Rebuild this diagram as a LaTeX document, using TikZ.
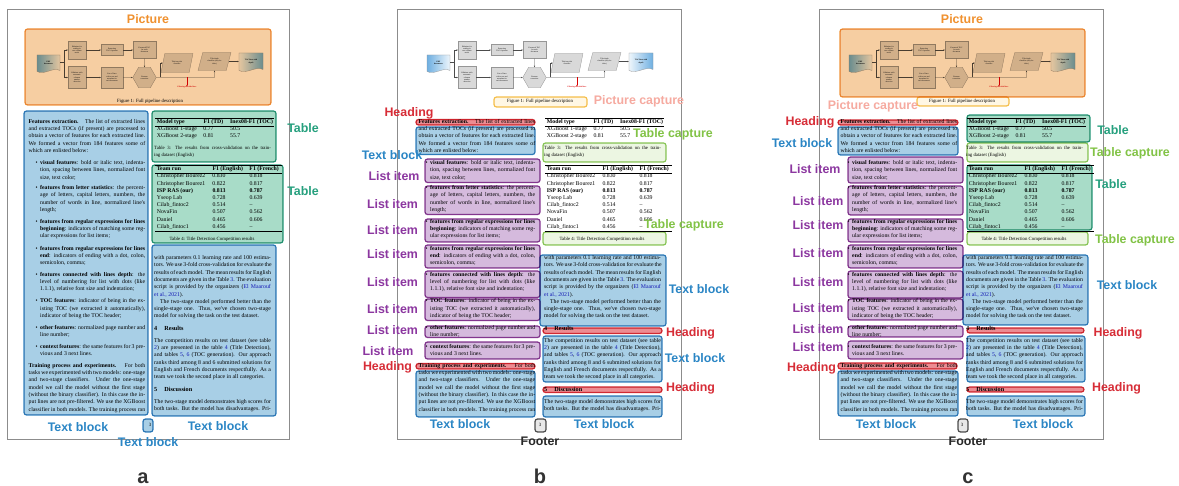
\documentclass[tikz,border=0pt]{standalone}
\usepackage{fontspec}
\setmainfont{Liberation Sans}
\newfontfamily\docfont{Liberation Serif}
\usetikzlibrary{arrows.meta,shapes.geometric}

% region colours
\definecolor{tbFill}{RGB}{168,207,230}
\definecolor{tbLine}{RGB}{52,132,192}
\definecolor{tbText}{RGB}{43,134,197}
\definecolor{tabFill}{RGB}{168,220,200}
\definecolor{tabLine}{RGB}{40,155,125}
\definecolor{tabText}{RGB}{38,160,126}
\definecolor{picFill}{RGB}{246,206,162}
\definecolor{picLine}{RGB}{240,150,60}
\definecolor{picText}{RGB}{240,145,47}
\definecolor{hdFill}{RGB}{236,140,146}
\definecolor{hdLine}{RGB}{215,50,60}
\definecolor{hdText}{RGB}{215,45,55}
\definecolor{liFill}{RGB}{213,186,221}
\definecolor{liLine}{RGB}{140,60,150}
\definecolor{liText}{RGB}{140,55,160}
\definecolor{pcFill}{RGB}{255,247,228}
\definecolor{pcLine}{RGB}{245,195,80}
\definecolor{pcText}{RGB}{246,170,160}
\definecolor{tcFill}{RGB}{236,246,226}
\definecolor{tcLine}{RGB}{140,200,90}
\definecolor{tcText}{RGB}{130,195,70}
\definecolor{ftFill}{RGB}{232,232,232}
\definecolor{ftLine}{RGB}{80,80,80}
\definecolor{ftText}{RGB}{40,40,40}
% page colours
\definecolor{linkBlue}{RGB}{30,30,200}
\definecolor{fcFill}{RGB}{217,217,217}
\definecolor{fcLine}{RGB}{150,150,150}
\definecolor{docBlue}{RGB}{110,175,225}

% one justified line, a last line, an indented line, a bullet
\newcommand{\lk}[1]{\textcolor{linkBlue}{#1}}
\newcommand{\docJ}[1]{\hbox to\hsize{#1}}
\newcommand{\docL}[1]{\hbox to\hsize{#1\hfil}}
\newcommand{\docI}[1]{\hbox to\hsize{\hskip6pt #1}}
\newcommand{\bul}{\llap{\textbullet\hskip2.6pt}}
\newcommand{\doclines}[2]{\vtop{\hsize=#1\relax #2}}

\tikzset{
  region/.style={rounded corners=2.5pt, line width=1.2pt},
  textblk/.style={region, fill=tbFill, draw=tbLine},
  tablebox/.style={region, fill=tabFill, draw=tabLine},
  picbox/.style={region, fill=picFill, draw=picLine},
  headbox/.style={region, fill=hdFill, draw=hdLine},
  listbox/.style={region, fill=liFill, draw=liLine},
  capbox/.style={region, fill=pcFill, draw=pcLine},
  tcapbox/.style={region, fill=tcFill, draw=tcLine},
  footbox/.style={region, fill=ftFill, draw=ftLine},
  lbl/.style={font=\bfseries\fontsize{12.4}{14}\selectfont, inner sep=0pt, text height=8.9pt, text depth=0pt},
  panelmark/.style={font=\bfseries\fontsize{20}{22}\selectfont, text=black!80, inner sep=0pt, anchor=base},
  pagefr/.style={draw=black!45, line width=1pt, fill=white},
  docpara/.style={anchor=base west, inner sep=0pt, font=\docfont\fontsize{5.8}{7.3}\selectfont},
  doccap/.style={anchor=base west, inner sep=0pt, font=\docfont\fontsize{4.8}{6.3}\selectfont},
  dochead/.style={anchor=base west, inner sep=0pt, font=\docfont\bfseries\fontsize{6.2}{7.3}\selectfont},
  doctab/.style={anchor=base west, inner sep=0pt, font=\docfont\fontsize{5.8}{7.2}\selectfont},
  docrule/.style={line width=0.4pt, draw=black},
  fcbox/.style={draw=fcLine, fill=fcFill, line width=0.3pt, inner sep=0pt, align=center, font=\docfont\fontsize{1.9}{2.2}\selectfont},
  fctext/.style={inner sep=0pt, align=center, font=\docfont\bfseries\fontsize{1.9}{2.2}\selectfont},
  fcline/.style={line width=0.35pt, draw=black!70},
  fcarrow/.style={fcline, -{Stealth[length=1.6pt,width=1.4pt]}},
  redarrow/.style={line width=0.4pt, draw=red!85!black, -{Stealth[length=1.6pt,width=1.4pt]}},
}

% the printed page; #1 prefixes the node names
\newcommand{\docpage}[1]{%
  % pipeline figure
  \path[draw=fcLine, line width=0.3pt, left color=docBlue, right color=docBlue!12]
    (30,55) -- (53,55) -- (53,70.5) .. controls (46,66.5) and (38,75.5) .. (30,71.5) -- cycle;
  \node[fctext, minimum width=23pt, minimum height=14pt] (#1-pdf) at (41.5,62.5) {PDF\\documents};
  \node[fcbox, minimum width=18pt, minimum height=18pt] (#1-f1) at (70,50) {Pdfminer for\\reading in\\one-column\\mode};
  \node[fcbox, minimum width=22pt, minimum height=11pt] (#1-f2) at (105,50) {Extracting\\TOC if present};
  \node[fcbox, minimum width=23pt, minimum height=17pt] (#1-f3) at (137.5,50) {Extracted TOC\\for each\\document};
  \node[fcbox, minimum width=18pt, minimum height=22pt] (#1-f4) at (70,77.5) {Pdfminer with\\automatic\\columns\\number\\detection};
  \node[fcbox, minimum width=22pt, minimum height=21pt] (#1-f5) at (105,77.5) {List of lines\\with a text and\\metadata for\\each document};
  \node[fcbox, regular polygon, regular polygon sides=6, minimum size=23.5pt] (#1-hex) at (137.5,77.5) {Features\\extraction};
  \node[fcbox, trapezium, trapezium left angle=65, trapezium right angle=115, trapezium stretches=true,
        minimum width=32pt, minimum height=19pt] (#1-p1) at (170,63) {Title/non-title\\classifier};
  \node[fcbox, trapezium, trapezium left angle=65, trapezium right angle=115, trapezium stretches=true,
        minimum width=33pt, minimum height=18pt] (#1-p2) at (207.5,61.5) {Title depth\\classifier (only for\\titles)};
  \path[draw=fcLine, line width=0.3pt, left color=docBlue!12, right color=docBlue]
    (232,53) -- (256,53) -- (256,69.5) .. controls (249,65.5) and (240,74.5) .. (232,70.5) -- cycle;
  \node[fctext, minimum width=24pt, minimum height=14pt] (#1-out) at (244,61.5) {TOC lines with\\depth};
  \node[fctext, text=red!85!black] (#1-filt) at (180,87.5) {Filtering non-title lines};
  \coordinate (#1-br) at (57,62.5);
  \coordinate (#1-j1) at (153,77.5);
  \coordinate (#1-j3) at (180,77.5);
  \coordinate (#1-j2) at (207.5,77.5);
  \draw[fcline] (#1-pdf.east) -- (#1-br);
  \draw[fcarrow] (#1-br) |- (#1-f1.west);
  \draw[fcarrow] (#1-br) |- (#1-f4.west);
  \draw[fcarrow] (#1-f1) -- (#1-f2);
  \draw[fcarrow] (#1-f2) -- (#1-f3);
  \draw[fcarrow] (#1-f3) -- (#1-hex);
  \draw[fcarrow] (#1-f4) -- (#1-f5);
  \draw[fcarrow] (#1-f5) -- (#1-hex);
  \draw[fcline] (#1-hex.east) -- (#1-j2);
  \draw[fcarrow] (#1-j1) |- (#1-p1.west);
  \draw[fcarrow] (#1-j2) -- (#1-p2.south);
  \draw[fcarrow] (#1-p2) -- (#1-out);
  \draw[redarrow] (#1-j3) -- (#1-filt.north);
  \node[anchor=base, inner sep=0pt, font=\docfont\fontsize{4.8}{6}\selectfont] (#1-fig) at (143,103) {Figure 1: Full pipeline description};
  % left column
  \node[docpara] (#1-intro) at (21.5,123.3) {\doclines{116.5pt}{%
    \docJ{\textbf{Features extraction.}\hskip 6pt plus 2pt The list of extracted lines}%
    \docJ{and extracted TOCs (if present) are processed to}%
    \docJ{obtain a vector of features for each extracted line.}%
    \docJ{We formed a vector from 184 features some of}%
    \docL{which are enlisted below:}}};
  \node[docpara] (#1-it1) at (33,164.6) {\doclines{105pt}{%
    \docJ{\bul\textbf{visual features}: bold or italic text, indenta-}%
    \docJ{tion, spacing between lines, normalized font}%
    \docL{size, text color;}}};
  \node[docpara] (#1-it2) at (33,189.6) {\doclines{105pt}{%
    \docJ{\bul\textbf{features from letter statistics}: the percent-}%
    \docJ{age of letters, capital letters, numbers, the}%
    \docJ{number of words in line, normalized line's}%
    \docL{length;}}};
  \node[docpara] (#1-it3) at (33,223.3) {\doclines{105pt}{%
    \docJ{\bul\textbf{features from regular expressions for lines}}%
    \docJ{\textbf{beginning}: indicators of matching some reg-}%
    \docL{ular expressions for list items;}}};
  \node[docpara] (#1-it4) at (33,250.3) {\doclines{105pt}{%
    \docJ{\bul\textbf{features from regular expressions for lines}}%
    \docJ{\textbf{end}: indicators of ending with a dot, colon,}%
    \docL{semicolon, comma;}}};
  \node[docpara] (#1-it5) at (33,276.3) {\doclines{105pt}{%
    \docJ{\bul\textbf{features connected with lines depth}: the}%
    \docJ{level of numbering for list with dots (like}%
    \docL{1.1.1), relative font size and indentation;}}};
  \node[docpara] (#1-it6) at (33,302.8) {\doclines{105pt}{%
    \docJ{\bul\textbf{TOC features}: indicator of being in the ex-}%
    \docJ{isting TOC (we extracted it automatically),}%
    \docL{indicator of being the TOC header;}}};
  \node[docpara] (#1-it7) at (33,329.6) {\doclines{105pt}{%
    \docJ{\bul\textbf{other features}: normalized page number and}%
    \docL{line number;}}};
  \node[docpara] (#1-it8) at (33,348.6) {\doclines{105pt}{%
    \docJ{\bul\textbf{context features}: the same features for 3 pre-}%
    \docL{vious and 3 next lines.}}};
  \node[docpara] (#1-train) at (21.5,367.3) {\doclines{116.5pt}{%
    \docJ{\textbf{Training process and experiments.}\hskip 6pt plus 2pt For both}%
    \docJ{tasks we experimented with two models: one-stage}%
    \docJ{and two-stage classifiers. Under the one-stage}%
    \docJ{model we call the model without the first stage}%
    \docJ{(without the binary classifier). In this case the in-}%
    \docJ{put lines are not pre-filtered. We use the XGBoost}%
    \docJ{classifier in both models. The training process ran}}};
  % right column
  \node[doctab] (#1-tab3) at (149.7,123.3) {\begin{tabular}[t]{@{}p{46.6pt}@{}p{26.7pt}@{}l@{}}
    \textbf{Model type} & \textbf{F1 (TD)} & \textbf{Inex08-F1 (TOC)}\\
    XGBoost 1-stage & 0.77 & 50.5\\
    XGBoost 2-stage & 0.81 & 55.7
  \end{tabular}};
  \draw[docrule] (148,118.3) -- (267,118.3);
  \draw[docrule] (148,125.8) -- (267,125.8);
  \node[doccap] (#1-cap3) at (147,150) {\doclines{116.7pt}{%
    \docJ{Table 3: The results from cross-validation on the train-}%
    \docL{ing dataset (English)}}};
  \node[doctab] (#1-tab4) at (149.7,170.8) {\begin{tabular}[t]{@{}p{55.6pt}@{}p{37pt}@{}l@{}}
    \textbf{Team run} & \textbf{F1 (English)} & \textbf{F1 (French)}\\
    Christopher Bourez2 & 0.830 & 0.818\\
    Christopher Bourez1 & 0.822 & 0.817\\
    \textbf{ISP RAS (our)} & \textbf{0.813} & \textbf{0.787}\\
    Yseop Lab & 0.728 & 0.639\\
    Cilab\_fintoc2 & 0.514 & \textendash\\
    NovaFin & 0.507 & 0.562\\
    Daniel & 0.465 & 0.606\\
    Cilab\_fintoc1 & 0.456 & \textendash
  \end{tabular}};
  \draw[docrule] (148,165.7) -- (274.7,165.7);
  \draw[docrule] (148,173.2) -- (274.7,173.2);
  \draw[docrule] (148,231.4) -- (274.7,231.4);
  \node[anchor=base, inner sep=0pt, font=\docfont\fontsize{4.8}{6.3}\selectfont] (#1-cap4) at (205,240.6) {Table 4: Title Detection Competition results};
  \node[docpara] (#1-r1) at (147,259.6) {\doclines{116.7pt}{%
    \docJ{with parameters 0.1 learning rate and 100 estima-}%
    \docJ{tors. We use 3-fold cross-validation for evaluate the}%
    \docJ{results of each model. The mean results for English}%
    \docJ{documents are given in the Table \lk{3}. The evaluation}%
    \docJ{script is provided by the organizers (\lk{El Maarouf}}%
    \docL{\lk{et al., 2021}).}%
    \docI{The two-stage model performed better than the}%
    \docJ{single-stage one. Thus, we've chosen two-stage}%
    \docL{model for solving the task on the test dataset.}}};
  \node[dochead] (#1-h4) at (147,330.6) {4\hskip7pt Results};
  \node[docpara] (#1-r3) at (147,342.3) {\doclines{116.7pt}{%
    \docJ{The competition results on test dataset (see table}%
    \docJ{\lk{2}) are presented in the table \lk{4} (Title Detection),}%
    \docJ{and tables \lk{5}, \lk{6} (TOC generation). Our approach}%
    \docJ{ranks third among 8 and 6 submitted solutions for}%
    \docJ{English and French documents respectfully. As a}%
    \docL{team we took the second place in all categories.}}};
  \node[dochead] (#1-h5) at (147,392) {5\hskip7pt Discussion};
  \node[docpara] (#1-r4) at (147,403.6) {\doclines{116.7pt}{%
    \docJ{The two-stage model demonstrates high scores for}%
    \docJ{both tasks. But the model has disadvantages. Pri-}}};
  \node[anchor=base, inner sep=0pt, font=\docfont\fontsize{4.8}{6}\selectfont] (#1-pg) at (143,427) {3};
}

\begin{document}
\begin{tikzpicture}[x=1pt, y=-1pt]
  \useasboundingbox (0,0) rectangle (1179,486);
  \fill[white] (0,0) rectangle (1179,486);

  % the three pages
  \draw[pagefr] (7,10) rectangle (289,440);
  \draw[pagefr] (397,10) rectangle (681,440);
  \draw[pagefr] (819,10) rectangle (1103,440);
  \begin{scope}[shift={(7,0)}]\docpage{a}\end{scope}
  \begin{scope}[shift={(397,0)}]\docpage{b}\end{scope}
  \begin{scope}[shift={(819,0)}]\docpage{c}\end{scope}

  % layout regions
  \begin{scope}[blend mode=multiply]
    % panel a
    \draw[picbox] (25,29) rectangle (271,105);
    \draw[textblk] (24,111) rectangle (148,415);
    \draw[tablebox] (152,111) rectangle (276,162);
    \draw[tablebox] (152,165) rectangle (283,243);
    \draw[textblk] (152,245) rectangle (276,416);
    \draw[textblk] (143,419) rectangle (153,432);
    % panel b
    \draw[capbox] (494,97) rectangle (587,107);
    \draw[headbox] (416,119.5) rectangle (535,125);
    \draw[textblk] (416,127) rectangle (535,154.5);
    \draw[listbox] (425,159) rectangle (540,182.5);
    \draw[listbox] (425,186) rectangle (540,214.5);
    \draw[listbox] (425,219) rectangle (540,242);
    \draw[listbox] (425,245) rectangle (540,268);
    \draw[listbox] (425,271) rectangle (540,297.5);
    \draw[listbox] (425,299) rectangle (540,320.5);
    \draw[listbox] (425,326) rectangle (540,337.5);
    \draw[listbox] (425,342) rectangle (540,359);
    \draw[headbox] (416,363.5) rectangle (535,369);
    \draw[textblk] (416,371) rectangle (535,417);
    \draw[tcapbox] (543,143) rectangle (666,162);
    \draw[tcapbox] (543,232) rectangle (666,245);
    \draw[textblk] (540,255) rectangle (666,326);
    \draw[headbox] (543,328) rectangle (662,333.5);
    \draw[textblk] (543,336) rectangle (662,382);
    \draw[headbox] (543,387) rectangle (662,392.5);
    \draw[textblk] (543,396) rectangle (662,417);
    \draw[footbox] (535,419) rectangle (546,432);
    % panel c
    \draw[picbox] (840,29) rectangle (1085,97);
    \draw[capbox] (917,97) rectangle (1009,106);
    \draw[headbox] (838,120) rectangle (958,125);
    \draw[textblk] (838,127) rectangle (958,155);
    \draw[listbox] (848,157) rectangle (963,183);
    \draw[listbox] (848,186) rectangle (963,215);
    \draw[listbox] (848,219) rectangle (963,242);
    \draw[listbox] (848,245) rectangle (963,268);
    \draw[listbox] (848,271) rectangle (963,298);
    \draw[listbox] (848,299) rectangle (963,320);
    \draw[listbox] (848,326) rectangle (963,337);
    \draw[listbox] (848,341) rectangle (963,359);
    \draw[headbox] (838,363) rectangle (957,369);
    \draw[textblk] (838,371) rectangle (958,416);
    \draw[tablebox] (967,115) rectangle (1090,142);
    \draw[tcapbox] (967,143) rectangle (1088,162);
    \draw[tablebox] (967,165) rectangle (1092,230);
    \draw[tcapbox] (967,232) rectangle (1088,245);
    \draw[textblk] (963,255) rectangle (1088,325);
    \draw[headbox] (967,328) rectangle (1084,333);
    \draw[textblk] (967,336) rectangle (1085,382);
    \draw[headbox] (967,387) rectangle (1084,392);
    \draw[textblk] (967,396) rectangle (1085,416);
    \draw[footbox] (958,419) rectangle (968,432);
  \end{scope}

  % labels, panel a
  \node[lbl, text=picText] (la-pic) at (148,19) {Picture};
  \node[lbl, text=tabText] (la-tab1) at (303,128) {Table};
  \node[lbl, text=tabText] (la-tab2) at (303,191) {Table};
  \node[lbl, text=tbText] (la-tb1) at (78,427) {Text block};
  \node[lbl, text=tbText] (la-tb2) at (218,426) {Text block};
  \node[lbl, text=tbText] (la-tb3) at (148,442) {Text block};
  \node[panelmark] (mark-a) at (143,483) {a};

  % labels, panel b
  \node[lbl, text=pcText] (lb-pcap) at (639,100) {Picture capture};
  \node[lbl, text=hdText] (lb-hd1) at (409,112) {Heading};
  \node[lbl, text=tbText] (lb-tb1) at (392,155) {Text block};
  \node[lbl, text=liText] (lb-li1) at (394,176) {List item};
  \node[lbl, text=liText] (lb-li2) at (392.5,204) {List item};
  \node[lbl, text=liText] (lb-li3) at (392.5,230) {List item};
  \node[lbl, text=liText] (lb-li4) at (392.5,254) {List item};
  \node[lbl, text=liText] (lb-li5) at (392.5,282) {List item};
  \node[lbl, text=liText] (lb-li6) at (392.5,309) {List item};
  \node[lbl, text=liText] (lb-li7) at (392.5,330) {List item};
  \node[lbl, text=liText] (lb-li8) at (388,351) {List item};
  \node[lbl, text=hdText] (lb-hd2) at (387.5,366) {Heading};
  \node[lbl, text=tcText] (lb-tc1) at (673,133) {Table capture};
  \node[lbl, text=tcText] (lb-tc2) at (684,224) {Table capture};
  \node[lbl, text=tbText] (lb-tb2) at (699,289) {Text block};
  \node[lbl, text=hdText] (lb-hd3) at (690.5,332) {Heading};
  \node[lbl, text=tbText] (lb-tb3) at (695,357.7) {Text block};
  \node[lbl, text=hdText] (lb-hd4) at (690.5,387.3) {Heading};
  \node[lbl, text=tbText] (lb-tb4) at (460,424) {Text block};
  \node[lbl, text=tbText] (lb-tb5) at (604,424) {Text block};
  \node[lbl, text=ftText] (lb-ft) at (540,441) {Footer};
  \node[panelmark] (mark-b) at (540,483) {b};

  % labels, panel c
  \node[lbl, text=picText] (lc-pic) at (962,19) {Picture};
  \node[lbl, text=pcText] (lc-pcap) at (873,105) {Picture capture};
  \node[lbl, text=hdText] (lc-hd1) at (810,121) {Heading};
  \node[lbl, text=tbText] (lc-tb1) at (802,143) {Text block};
  \node[lbl, text=liText] (lc-li1) at (815,169) {List item};
  \node[lbl, text=liText] (lc-li2) at (818,201) {List item};
  \node[lbl, text=liText] (lc-li3) at (818,225) {List item};
  \node[lbl, text=liText] (lc-li4) at (818,253) {List item};
  \node[lbl, text=liText] (lc-li5) at (818,282) {List item};
  \node[lbl, text=liText] (lc-li6) at (818,308) {List item};
  \node[lbl, text=liText] (lc-li7) at (818,329) {List item};
  \node[lbl, text=liText] (lc-li8) at (818,347) {List item};
  \node[lbl, text=hdText] (lc-hd2) at (811.5,367) {Heading};
  \node[lbl, text=tabText] (lc-tab1) at (1113,130) {Table};
  \node[lbl, text=tcText] (lc-tc1) at (1130,152) {Table capture};
  \node[lbl, text=tabText] (lc-tab2) at (1111,184) {Table};
  \node[lbl, text=tcText] (lc-tc2) at (1135,239) {Table capture};
  \node[lbl, text=tbText] (lc-tb2) at (1127,285) {Text block};
  \node[lbl, text=hdText] (lc-hd3) at (1118,332) {Heading};
  \node[lbl, text=hdText] (lc-hd4) at (1116.5,387) {Heading};
  \node[lbl, text=tbText] (lc-tb3) at (886,424) {Text block};
  \node[lbl, text=tbText] (lc-tb4) at (1043,424) {Text block};
  \node[lbl, text=ftText] (lc-ft) at (968,441) {Footer};
  \node[panelmark] (mark-c) at (968,483) {c};
\end{tikzpicture}
\end{document}
